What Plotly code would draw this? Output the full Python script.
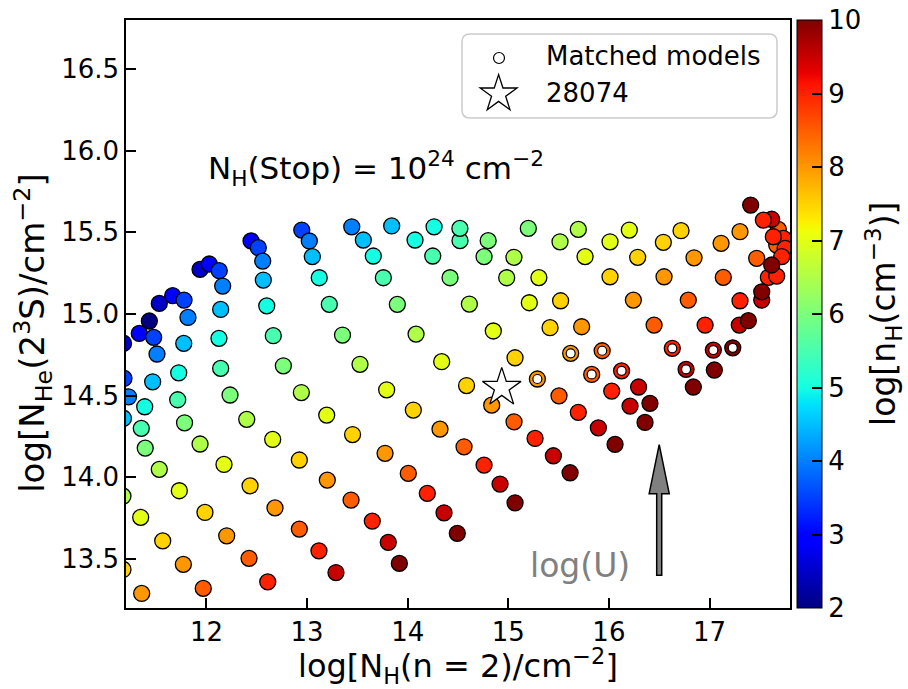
import numpy as np
import plotly.graph_objects as go

# Photoionisation model grid: one row per model, grouped by ionisation parameter (low U first)
log_nh2 = [
    # U step 1
    11.170, 11.356,
    # U step 2
    11.180, 11.225, 11.175, 11.170, 11.346, 11.565, 11.770, 11.968,
    # U step 3
    11.175, 11.332, 11.475, 11.508, 11.465, 11.386, 11.352, 11.391, 11.531, 11.730,
    11.985, 12.201, 12.423, 12.609,
    # U step 4
    11.432, 11.531, 11.664, 11.777, 11.816, 11.774, 11.724, 11.714, 11.782, 11.936,
    12.174, 12.433, 12.681, 12.923, 13.118, 13.287,
    # U step 5
    11.936, 12.028, 12.127, 12.161, 12.141, 12.124, 12.141, 12.234, 12.400, 12.658,
    12.923, 13.201, 13.437, 13.648, 13.807, 13.917,
    # U step 6
    12.443, 12.515, 12.559, 12.565, 12.599, 12.664, 12.764, 12.943, 13.195, 13.452,
    13.775, 14.006, 14.195, 14.361, 14.493,
    # U step 7
    12.947, 13.022, 13.052, 13.121, 13.221, 13.352, 13.526, 13.791, 14.056, 14.321,
    14.560, 14.759, 14.918, 15.067,
    # U step 8
    13.444, 13.559, 13.658, 13.758, 13.897, 14.083, 14.338, 14.585, 14.835, 15.057,
    15.266, 15.448, 15.614,
    # U step 9
    13.841, 14.073, 14.249, 14.421, 14.613, 14.851, 15.067, 15.289, 15.504, 15.696,
    15.895, 16.061,
    # U step 10
    14.262, 14.520, 14.759, 14.984, 15.209, 15.415, 15.620, 15.829, 16.028, 16.210,
    16.359,
    # U step 11
    14.519, 14.800, 15.056, 15.304, 15.520, 15.729, 15.933, 16.126, 16.295, 16.408,
    # U step 12
    15.199, 15.514, 15.763, 16.011, 16.243, 16.449, 16.630, 16.767, 16.839,
    # U step 13
    15.696, 16.011, 16.286, 16.548, 16.789, 16.956, 17.038, 17.048,
    # U step 14
    16.203, 16.541, 16.846, 17.137, 17.303, 17.296, 17.231,
    # U step 15
    16.717, 17.115, 17.469, 17.585, 17.519, 17.386,
    # highest U
    17.303, 17.684, 17.668, 17.734, 17.751, 17.718, 17.668, 17.618, 17.519,
    17.634, 17.618, 17.535, 17.409,
]
log_nhe = [
    13.436, 13.289,
    14.606, 14.493, 14.361, 13.885, 13.755, 13.611, 13.467, 13.320,
    14.820, 14.881, 14.857, 14.755, 14.585, 14.432, 14.300, 14.179, 14.049, 13.918,
    13.785, 13.642, 13.504, 13.360,
    14.957, 15.065, 15.112, 15.085, 14.979, 14.820, 14.640, 14.475, 14.334, 14.204,
    14.079, 13.948, 13.813, 13.683, 13.550, 13.417,
    15.273, 15.306, 15.265, 15.171, 15.028, 14.851, 14.667, 14.504, 14.355, 14.232,
    14.106, 13.983, 13.861, 13.732, 13.602, 13.473,
    15.447, 15.406, 15.324, 15.208, 15.050, 14.867, 14.683, 14.519, 14.381, 14.262,
    14.147, 14.024, 13.902, 13.783, 13.657,
    15.514, 15.447, 15.351, 15.222, 15.059, 14.871, 14.692, 14.536, 14.412, 14.295,
    14.187, 14.075, 13.959, 13.844,
    15.534, 15.453, 15.355, 15.222, 15.059, 14.877, 14.708, 14.562, 14.442, 14.340,
    14.238, 14.132, 14.028,
    15.539, 15.453, 15.355, 15.222, 15.061, 14.896, 14.732, 14.602, 14.499, 14.398,
    14.303, 14.202,
    15.534, 15.449, 15.351, 15.222, 15.069, 14.916, 14.759, 14.630, 14.528, 14.436,
    14.336,
    15.524, 15.449, 15.347, 15.223, 15.081, 14.922, 14.775, 14.652, 14.553, 14.453,
    15.524, 15.442, 15.351, 15.228, 15.085, 14.932, 14.790, 14.661, 14.553,
    15.518, 15.442, 15.347, 15.228, 15.085, 14.932, 14.779, 14.657,
    15.514, 15.439, 15.344, 15.224, 15.081, 14.932, 14.793,
    15.510, 15.433, 15.341, 15.224, 15.085, 14.959,
    15.504, 15.518, 15.422, 15.463, 15.402, 15.351, 15.232, 15.300, 15.136,
    15.473, 15.580, 15.575, 15.667,
]
log_nh = [
    7.5, 8.0,
    3.5, 4.0, 4.5, 6.5, 7.0, 7.5, 8.0, 8.5,
    2.5, 3.0, 3.5, 4.0, 4.5, 5.0, 5.5, 6.0, 6.5, 7.0, 7.5, 8.0, 8.5, 9.0,
    2.0, 2.5, 3.0, 3.5, 4.0, 4.5, 5.0, 5.5, 6.0, 6.5, 7.0, 7.5, 8.0, 8.5, 9.0, 9.5,
    2.5, 3.0, 3.5, 4.0, 4.5, 5.0, 5.5, 6.0, 6.5, 7.0, 7.5, 8.0, 8.5, 9.0, 9.5, 10.0,
    3.0, 3.5, 4.0, 4.5, 5.0, 5.5, 6.0, 6.5, 7.0, 7.5, 8.0, 8.5, 9.0, 9.5, 10.0,
    3.5, 4.0, 4.5, 5.0, 5.5, 6.0, 6.5, 7.0, 7.5, 8.0, 8.5, 9.0, 9.5, 10.0,
    4.0, 4.5, 5.0, 5.5, 6.0, 6.5, 7.0, 7.5, 8.0, 8.5, 9.0, 9.5, 10.0,
    4.5, 5.0, 5.5, 6.0, 6.5, 7.0, 7.5, 8.0, 8.5, 9.0, 9.5, 10.0,
    5.0, 5.5, 6.0, 6.5, 7.0, 7.5, 8.0, 8.5, 9.0, 9.5, 10.0,
    5.5, 6.0, 6.5, 7.0, 7.5, 8.0, 8.5, 9.0, 9.5, 10.0,
    6.0, 6.5, 7.0, 7.5, 8.0, 8.5, 9.0, 9.5, 10.0,
    6.5, 7.0, 7.5, 8.0, 8.5, 9.0, 9.5, 10.0,
    7.0, 7.5, 8.0, 8.5, 9.0, 9.5, 10.0,
    7.5, 8.0, 8.5, 9.0, 9.5, 10.0,
    8.0, 8.5, 8.5, 9.0, 9.0, 9.0, 9.0, 10.0, 10.0,
    9.0, 9.5, 9.0, 10.0,
]
# Models whose predicted columns match the observed ones
matched_models = [
    (15.289, 14.602), (15.620, 14.759), (15.829, 14.630), (15.933, 14.775),
    (16.126, 14.652), (16.630, 14.790), (16.767, 14.661), (17.038, 14.779),
    (17.231, 14.793),
]

# Observed columns of the target
obs_name = "28074"
obs_nh2 = [14.935]
obs_nhe = [14.549]

nh_min, nh_max = 2, 10
x_ticks = [12, 13, 14, 15, 16, 17]
y_ticks = [13.5, 14.0, 14.5, 15.0, 15.5, 16.0, 16.5]
cb_ticks = [2, 3, 4, 5, 6, 7, 8, 9, 10]

FONT = "DejaVu Sans"
W, H = 908, 689
L, R, T, B = 126, 118, 20, 81
PW, PH = W - L - R, H - T - B


def jet_scale():
    """matplotlib 'jet' as a plotly colorscale (piecewise linear, exact breakpoints)."""
    red = [(0, 0), (0.35, 0), (0.66, 1), (0.89, 1), (1, 0.5)]
    green = [(0, 0), (0.125, 0), (0.375, 1), (0.64, 1), (0.91, 0), (1, 0)]
    blue = [(0, 0.5), (0.11, 1), (0.34, 1), (0.65, 0), (1, 0)]
    stops = sorted({p for ch in (red, green, blue) for p, _ in ch})
    out = []
    for s in stops:
        rgb = [np.interp(s, [p for p, _ in ch], [v for _, v in ch]) for ch in (red, green, blue)]
        out.append([s, "rgb({:.0f},{:.0f},{:.0f})".format(*(255 * c for c in rgb))])
    return out


def px2paper(px, py):
    return (px - L) / PW, 1 - (py - T) / PH


def star_path(cx, cy, r_out):
    """Five-pointed star outline centred on pixel (cx, cy), in paper coordinates."""
    r_in = r_out * 0.381966
    pts = []
    for k in range(10):
        ang = np.pi / 2 + k * np.pi / 5
        r = r_out if k % 2 == 0 else r_in
        pts.append(px2paper(cx + r * np.cos(ang), cy - r * np.sin(ang)))
    return "M " + " L ".join(f"{x:.5f},{y:.5f}" for x, y in pts) + " Z"


fig = go.Figure()

fig.add_trace(go.Scatter(
    x=log_nh2, y=log_nhe, mode="markers", showlegend=False,
    marker=dict(
        size=16, color=log_nh, colorscale=jet_scale(), cmin=nh_min, cmax=nh_max,
        line=dict(color="black", width=1.3),
        colorbar=dict(
            x=1.0105, xanchor="left", xpad=0, y=0.5, yanchor="middle", ypad=0,
            len=1, lenmode="fraction", thickness=25,
            outlinecolor="black", outlinewidth=1,
            tickvals=cb_ticks, ticks="inside", ticklen=10, tickwidth=2, tickcolor="black",
            tickfont=dict(family=FONT, size=26, color="black"),
        ),
    ),
))

fig.add_trace(go.Scatter(
    x=[m[0] for m in matched_models], y=[m[1] for m in matched_models],
    mode="markers", name="Matched models", showlegend=False,
    marker=dict(size=9, color="white", line=dict(color="black", width=1.2)),
))

fig.add_trace(go.Scatter(
    x=obs_nh2, y=obs_nhe, mode="markers", name=obs_name, showlegend=False,
    marker=dict(symbol="star", size=29, color="white", line=dict(color="black", width=1.3)),
))

# Arrow marking the direction of increasing ionisation parameter
ax0, ay0, alen = 16.5, 13.4, 0.8
w, hw, hl = 0.05, 0.2, 0.3
ytip, ybase = ay0 + alen, ay0 + alen - hl
arrow_path = (
    f"M {ax0 - w/2},{ay0} L {ax0 - w/2},{ybase} L {ax0 - hw/2},{ybase} "
    f"L {ax0},{ytip} L {ax0 + hw/2},{ybase} L {ax0 + w/2},{ybase} L {ax0 + w/2},{ay0} Z"
)

# Legend: rounded frame, glyphs and labels placed in pixel space
(lx0, ly1), (lx1, ly0) = px2paper(462, 34), px2paper(777, 118)
rx, ry = 8 / PW, 8 / PH
legend_frame = (
    f"M {lx0 + rx},{ly1} L {lx1 - rx},{ly1} Q {lx1},{ly1} {lx1},{ly1 - ry} "
    f"L {lx1},{ly0 + ry} Q {lx1},{ly0} {lx1 - rx},{ly0} L {lx0 + rx},{ly0} "
    f"Q {lx0},{ly0} {lx0},{ly0 + ry} L {lx0},{ly1 - ry} Q {lx0},{ly1} {lx0 + rx},{ly1} Z"
)
(c0x, c0y), (c1x, c1y) = px2paper(493.5, 52.5), px2paper(504.5, 63.5)
tx, ty_a = px2paper(544, 56)
_, ty_b = px2paper(544, 93)

fig.update_layout(
    width=W, height=H,
    margin=dict(l=L, r=R, t=T, b=B),
    paper_bgcolor="white", plot_bgcolor="white",
    font=dict(family=FONT, color="black"),
    showlegend=False,
    xaxis=dict(
        range=[11.2, 17.8], tickvals=x_ticks, ticks="inside", ticklen=10, tickwidth=1.5,
        tickcolor="black", showline=True, linecolor="black", linewidth=1.5, mirror=True,
        showgrid=False, zeroline=False, tickfont=dict(size=26),
    ),
    yaxis=dict(
        range=[13.2, 16.8], tickvals=y_ticks, ticktext=[f"{v:.1f}" for v in y_ticks],
        ticks="inside", ticklen=10, tickwidth=1.5,
        tickcolor="black", showline=True, linecolor="black", linewidth=1.5, mirror=True,
        showgrid=False, zeroline=False, tickfont=dict(size=26),
    ),
    shapes=[
        dict(type="path", path=legend_frame, xref="paper", yref="paper",
             line=dict(color="#cccccc", width=1.5), fillcolor="rgba(255,255,255,0.8)"),
        dict(type="circle", xref="paper", yref="paper", x0=c0x, x1=c1x, y0=c1y, y1=c0y,
             line=dict(color="black", width=1.2), fillcolor="white"),
        dict(type="path", path=star_path(498.6, 94.0, 19.4), xref="paper", yref="paper",
             line=dict(color="black", width=1.3), fillcolor="white"),
        dict(type="path", path=arrow_path, xref="x", yref="y",
             line=dict(color="black", width=1.5), fillcolor="#808080"),
    ],
    annotations=[
        dict(x=tx, y=ty_a, xref="paper", yref="paper", xanchor="left", yanchor="middle",
             text="Matched models", showarrow=False, font=dict(size=26)),
        dict(x=tx, y=ty_b, xref="paper", yref="paper", xanchor="left", yanchor="middle",
             text=obs_name, showarrow=False, font=dict(size=26)),
        dict(x=12.0, y=15.89, xref="x", yref="y", xanchor="left", yanchor="middle",
             text="N<sub>H</sub>(Stop) = 10<sup>24</sup> cm<sup>−2</sup>",
             showarrow=False, font=dict(size=31)),
        dict(x=15.2, y=13.46, xref="x", yref="y", xanchor="left", yanchor="middle",
             text="log(U)", showarrow=False, font=dict(size=33, color="gray")),
        dict(x=0.5, y=-0.098, xref="paper", yref="paper", xanchor="center", yanchor="middle",
             text="log[N<sub>H</sub>(n = 2)/cm<sup>−2</sup>]", showarrow=False,
             font=dict(size=32)),
        dict(x=-0.14, y=0.468, xref="paper", yref="paper", xanchor="center", yanchor="middle",
             text="log[N<sub>He</sub>(2<sup>3</sup>S)/cm<sup>−2</sup>]", textangle=-90,
             showarrow=False, font=dict(size=34)),
        dict(x=1.14, y=0.5, xref="paper", yref="paper", xanchor="center", yanchor="middle",
             text="log[n<sub>H</sub>(cm<sup>−3</sup>)]", textangle=-90,
             showarrow=False, font=dict(size=33)),
    ],
)

fig.write_html("out.html")
